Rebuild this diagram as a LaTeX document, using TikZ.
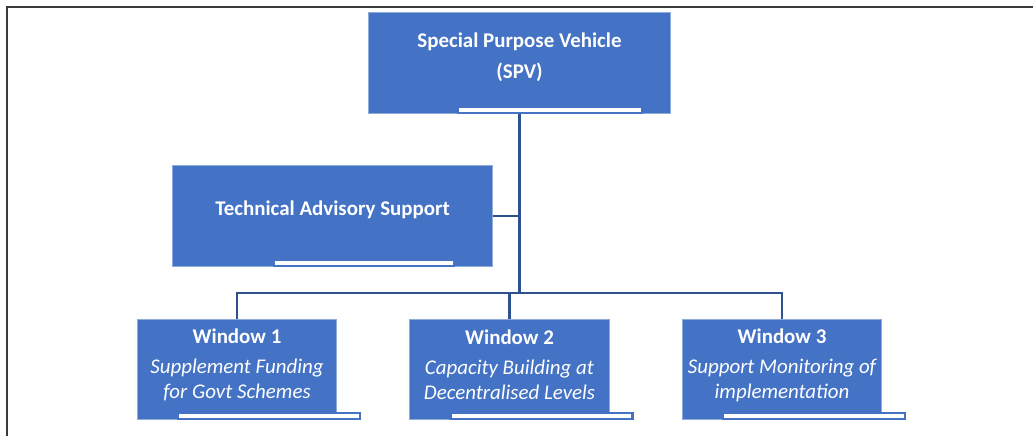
\documentclass[tikz,border=0pt]{standalone}
\usepackage{fontspec}
\setmainfont{Carlito}
\usepackage{xcolor}
\usepackage{tikz}

\definecolor{boxblue}{HTML}{4472C4}
\definecolor{edgeblue}{HTML}{8FAADC}
\definecolor{linkblue}{HTML}{2F528F}
\definecolor{framegray}{HTML}{3A3A3A}

\tikzset{
	unitbox/.style={fill=boxblue, draw=edgeblue, line width=0.8, inner sep=0pt},
	boxtext/.style={text=white, align=center, inner sep=0pt, font=\fontsize{21}{25}\selectfont},
	link/.style={draw=linkblue, line width=2.6},
	bar/.style={fill=white, draw=boxblue, line width=2.4}
}

\begin{document}
\begin{tikzpicture}[x=1bp, y=-1bp]
		\useasboundingbox (0,0) rectangle (1033,436);
		
		% frame
		\draw[framegray, line width=1.6] (7,436) -- (7,7) -- (1033,7);
		
		% top box
		\node[unitbox, minimum width=303, minimum height=102] (spv) at (519.5,63) {};
		\node[boxtext] (spvtext) at (519.5,57) {\bfseries Special Purpose Vehicle\\[6bp]\bfseries (SPV)};
		\filldraw[bar] (458,107) rectangle (642,113);
		
		% advisory box
		\node[unitbox, minimum width=321, minimum height=102] (tas) at (332.5,216) {};
		\node[boxtext] (tastext) at (332.5,210) {\bfseries Technical Advisory Support};
		\filldraw[bar] (274,260) rectangle (454,266);
		
		% windows
		\foreach \i/\x/\a/\b in {1/237/{Supplement Funding}/{for Govt Schemes},
			2/509.5/{Capacity Building at}/{Decentralised Levels},
			3/782/{Support Monitoring of}/{implementation}}{
			\node[unitbox, minimum width=200, minimum height=101] (w\i) at (\x,369.5) {};
			\node[boxtext] (w\i text) at (\x,365) {\bfseries Window \i\\[5bp]\itshape \a\\\itshape \b};
			\filldraw[bar] (\x-59,413) rectangle (\x+123,419);
		}
		
		% connectors
		\coordinate (bus) at (519.5,293);
		\draw[link] (spv.south) -- (bus);
		\draw[link] (tas.east) -- (tas.east -| spv.south);
		\draw[link] (w1.north) |- (bus) -| (w3.north);
		\draw[link] (w2.north) -- (w2.north |- bus);
	\end{tikzpicture}
\end{document}
